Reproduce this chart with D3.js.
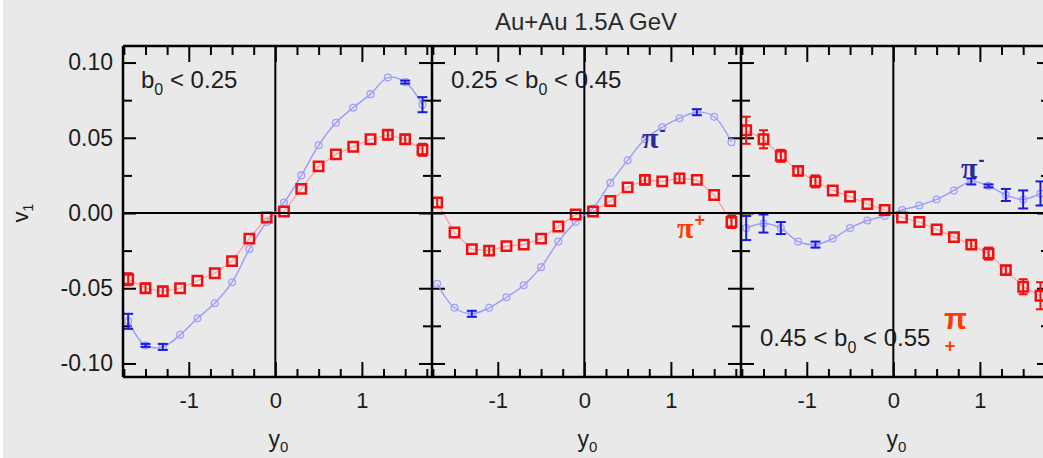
<!DOCTYPE html>
<html><head><meta charset="utf-8">
<script src="https://cdn.jsdelivr.net/npm/d3@7"></script>
<style>
html,body{margin:0;padding:0;background:#e9e9e9;}
svg{display:block;}
text{font-family:"Liberation Sans",Arial,Helvetica,sans-serif;}
</style></head><body>
<svg id="chart" width="1043" height="458"></svg>
<script>
// Rapidity bins (y0) shared by all three centrality classes
const rapidity = [-1.7,-1.5,-1.3,-1.1,-0.9,-0.7,-0.5,-0.3,-0.1,0.1,0.3,0.5,0.7,0.9,1.1,1.3,1.5,1.7];

// v1 of pi+ and pi- for each centrality class, with statistical errors
const piPlusB1    = [-0.044,-0.050,-0.052,-0.050,-0.045,-0.040,-0.032,-0.017,-0.003,0.001,0.016,0.031,0.039,0.044,0.049,0.052,0.049,0.042];
const piPlusErrB1 = [0.004,0.003,0.003,0,0,0,0,0,0,0,0,0,0,0,0,0.003,0.003,0.004];
const piMinusB1    = [-0.072,-0.088,-0.089,-0.081,-0.070,-0.060,-0.046,-0.024,-0.006,0.007,0.025,0.045,0.060,0.070,0.079,0.090,0.087,0.072];
const piMinusErrB1 = [0.005,0.001,0.002,0,0,0,0,0,0,0,0,0,0,0,0,0,0.001,0.005];

const piPlusB2    = [0.007,-0.013,-0.024,-0.025,-0.022,-0.021,-0.017,-0.009,-0.001,0.001,0.008,0.017,0.022,0.021,0.023,0.022,0.012,-0.006];
const piPlusErrB2 = [0.003,0,0,0.003,0,0,0,0,0,0,0,0,0.003,0,0.003,0,0,0.004];
const piMinusB2    = [-0.047,-0.063,-0.067,-0.063,-0.056,-0.048,-0.036,-0.019,-0.006,0.003,0.020,0.035,0.049,0.057,0.063,0.067,0.064,0.047];
const piMinusErrB2 = [0,0,0.002,0,0,0,0,0,0,0,0,0,0,0,0,0.002,0,0];

const piPlusB3    = [0.055,0.049,0.038,0.028,0.021,0.015,0.011,0.006,0.002,-0.003,-0.006,-0.011,-0.016,-0.021,-0.027,-0.038,-0.049,-0.055];
const piPlusErrB3 = [0.009,0.006,0.004,0.003,0.004,0,0,0,0,0,0,0,0,0.003,0.004,0.003,0.005,0.009];
const piMinusB3    = [-0.010,-0.007,-0.010,-0.019,-0.021,-0.017,-0.010,-0.005,-0.002,0.002,0.005,0.009,0.015,0.021,0.018,0.012,0.009,0.013];
const piMinusErrB3 = [0.008,0.006,0.004,0,0.002,0,0,0,0,0,0,0,0,0.002,0.001,0.004,0.006,0.008];

// Axis ticks
const xMajorTicks = [-1,0,1];
const xMinorTicks = [-1.75,-1.5,-1.25,-0.75,-0.5,-0.25,0.25,0.5,0.75,1.25,1.5,1.75];
const yMajorTicks = [-0.1,-0.05,0,0.05,0.1];
const yMinorTicks = [-0.075,-0.025,0.025,0.075];
const yTickLabels = [-0.1,-0.05,0,0.05,0.1];

// Centrality class labels: [before subscript, subscript, after]
const centralityLabels = [["b","0"," < 0.25"],["0.25 < b","0"," < 0.45"],["0.45 < b","0"," < 0.55"]];
const title = "Au+Au 1.5A GeV";

const panels = [
  {plus: piPlusB1, plusErr: piPlusErrB1, minus: piMinusB1, minusErr: piMinusErrB1},
  {plus: piPlusB2, plusErr: piPlusErrB2, minus: piMinusB2, minusErr: piMinusErrB2},
  {plus: piPlusB3, plusErr: piPlusErrB3, minus: piMinusB3, minusErr: piMinusErrB3}
];

const svg = d3.select("#chart");
svg.append("rect").attr("x",0).attr("y",0).attr("width",3).attr("height",458).attr("fill","#fff");

const plotTop = 46, plotBottom = 377, firstLeft = 123, panelW = 309;
const y = d3.scaleLinear().domain([-0.109, 0.111]).range([plotBottom, plotTop]);

const RED = "#ee1111", RED_LINE = "#ff9a9a";
const BLUE_PT = "#a0a0ff", BLUE_LINE = "#8c8cff", BLUE_ERR = "#1a1ae0";
const TEXT = "#1c1c1c";

function ticks(g){ g.select(".domain").remove(); g.selectAll("line").attr("stroke","#000").attr("stroke-width",2); g.selectAll("text").remove(); }

function errorBars(sel, x, key, errKey, color, cap) {
  const eg = sel.selectAll(null).data(d => [d]).join("g");
  eg.append("line").attr("x1", d => x(d.r)).attr("x2", d => x(d.r)).attr("y1", d => y(d[key] - d[errKey])).attr("y2", d => y(d[key] + d[errKey])).attr("stroke",color).attr("stroke-width",2);
  [-1, 1].forEach(s => eg.append("line")
    .attr("x1", d => x(d.r) - cap).attr("x2", d => x(d.r) + cap)
    .attr("y1", d => y(d[key] + s * d[errKey])).attr("y2", d => y(d[key] + s * d[errKey]))
    .attr("stroke",color).attr("stroke-width",2));
}

panels.forEach((p, i) => {
  const left = firstLeft + i * panelW;
  const x = d3.scaleLinear().domain([-1.76, 1.81]).range([left, left + panelW]);
  const g = svg.append("g");

  // tick marks on all four sides, pointing into the panel
  g.append("g").attr("transform",`translate(0,${plotTop})`).call(d3.axisBottom(x).tickValues(xMajorTicks).tickSize(16)).call(ticks);
  g.append("g").attr("transform",`translate(0,${plotTop})`).call(d3.axisBottom(x).tickValues(xMinorTicks).tickSize(9)).call(ticks);
  g.append("g").attr("transform",`translate(0,${plotBottom})`).call(d3.axisTop(x).tickValues(xMajorTicks).tickSize(15)).call(ticks);
  g.append("g").attr("transform",`translate(0,${plotBottom})`).call(d3.axisTop(x).tickValues(xMinorTicks).tickSize(8)).call(ticks);
  g.append("g").attr("transform",`translate(${left},0)`).call(d3.axisRight(y).tickValues(yMajorTicks).tickSize(13)).call(ticks);
  g.append("g").attr("transform",`translate(${left},0)`).call(d3.axisRight(y).tickValues(yMinorTicks).tickSize(9)).call(ticks);
  g.append("g").attr("transform",`translate(${left+panelW},0)`).call(d3.axisLeft(y).tickValues(yMajorTicks).tickSize(13)).call(ticks);
  g.append("g").attr("transform",`translate(${left+panelW},0)`).call(d3.axisLeft(y).tickValues(yMinorTicks).tickSize(9)).call(ticks);

  // x tick labels
  const xl = g.append("g").attr("transform",`translate(0,${plotBottom})`)
    .call(d3.axisBottom(x).tickValues(xMajorTicks).tickSize(0).tickPadding(15).tickFormat(d => String(d)));
  xl.select(".domain").remove();
  xl.selectAll("text").attr("font-size",22).attr("fill",TEXT).attr("font-family","Liberation Sans, Arial, sans-serif");

  // x axis title y0
  const xt = g.append("text").attr("x", x(0) + 3).attr("y", 447).attr("text-anchor","middle").attr("font-size",23).attr("fill",TEXT);
  xt.append("tspan").text("y");
  xt.append("tspan").attr("font-size",15).attr("dy",5).text("0");

  // zero line (vertical)
  g.append("line").attr("x1",x(0)).attr("x2",x(0)).attr("y1",plotTop).attr("y2",plotBottom).attr("stroke","#000").attr("stroke-width",2);

  const pts = rapidity.map((r, k) => ({r, plus: p.plus[k], pe: p.plusErr[k], minus: p.minus[k], me: p.minusErr[k]}));

  const clip = "clip" + i;
  svg.append("clipPath").attr("id", clip).append("rect").attr("x",left).attr("y",plotTop).attr("width",panelW).attr("height",plotBottom-plotTop);
  const dg = g.append("g").attr("clip-path",`url(#${clip})`);

  // pi- : smooth curve, open markers, error bars
  dg.append("path").datum(pts)
    .attr("d", d3.line().x(d => x(d.r)).y(d => y(d.minus)).curve(d3.curveCatmullRom))
    .attr("fill","none").attr("stroke",BLUE_LINE).attr("stroke-width",1.4).attr("opacity",0.85);
  dg.selectAll(".bm").data(pts).join("circle")
    .attr("cx", d => x(d.r)).attr("cy", d => y(d.minus)).attr("r",3.4)
    .attr("fill","none").attr("stroke",BLUE_PT).attr("stroke-width",1.3);
  dg.selectAll(".be").data(pts.filter(d => d.me > 0)).join("g").call(errorBars, x, "minus", "me", BLUE_ERR, 5);

  // pi+ : thin connecting line, open squares, error bars
  dg.append("path").datum(pts)
    .attr("d", d3.line().x(d => x(d.r)).y(d => y(d.plus)))
    .attr("fill","none").attr("stroke",RED_LINE).attr("stroke-width",1.2);
  dg.selectAll(".re").data(pts.filter(d => d.pe > 0)).join("g").call(errorBars, x, "plus", "pe", RED, 4.5);
  dg.selectAll(".rm").data(pts).join("path")
    .attr("transform", d => `translate(${x(d.r)},${y(d.plus)})`)
    .attr("d", d3.symbol(d3.symbolSquare, 88)())
    .attr("fill","none").attr("stroke",RED).attr("stroke-width",2.5);

  // centrality label
  const lab = centralityLabels[i];
  const lt = g.append("text").attr("font-size",24).attr("fill",TEXT)
    .attr("x", i === 0 ? 141 : left + 19).attr("y", i === 2 ? 346 : 88);
  lt.append("tspan").text(lab[0]);
  lt.append("tspan").attr("font-size",16).attr("dy",7).text(lab[1]);
  lt.append("tspan").attr("dy",-7).text(lab[2]);
});

// shared horizontal zero line and frame
svg.append("line").attr("x1",firstLeft).attr("x2",firstLeft + 3*panelW).attr("y1",y(0)).attr("y2",y(0)).attr("stroke","#000").attr("stroke-width",2);
for (let i = 0; i <= 3; i++) {
  const xx = firstLeft + i*panelW;
  svg.append("line").attr("x1",xx).attr("x2",xx).attr("y1",plotTop).attr("y2",plotBottom).attr("stroke","#000").attr("stroke-width",2.5);
}
svg.append("line").attr("x1",firstLeft).attr("x2",firstLeft+3*panelW).attr("y1",plotTop).attr("y2",plotTop).attr("stroke","#000").attr("stroke-width",2.5);
svg.append("line").attr("x1",firstLeft).attr("x2",firstLeft+3*panelW).attr("y1",plotBottom).attr("y2",plotBottom).attr("stroke","#000").attr("stroke-width",2.5);

// y tick labels
const yl = svg.append("g").attr("transform",`translate(${firstLeft},0)`)
  .call(d3.axisLeft(y).tickValues(yTickLabels).tickSize(0).tickPadding(10).tickFormat(d => d.toFixed(2)));
yl.select(".domain").remove();
yl.selectAll("text").attr("font-size",23).attr("fill",TEXT).attr("font-family","Liberation Sans, Arial, sans-serif");

// y axis title v1
const yt = svg.append("text").attr("transform",`translate(28,${y(0)}) rotate(-90)`).attr("text-anchor","middle").attr("font-size",22).attr("fill",TEXT);
yt.append("tspan").text("v");
yt.append("tspan").attr("font-size",14).attr("dy",5).text("1");

// title
svg.append("text").attr("x",586).attr("y",30).attr("text-anchor","middle").attr("font-size",24).attr("fill","#2a2a2a").text(title);

// particle labels
function piLabel(px, py, color, sign) {
  const t = svg.append("text").attr("x",px).attr("y",py).attr("fill",color);
  t.append("tspan").attr("font-family","Liberation Serif, DejaVu Serif, serif").attr("font-size",30).attr("font-weight","bold").text("\u03c0");
  t.append("tspan").attr("font-size",18).attr("font-weight","bold").attr("dx",1).attr("dy",-12).text(sign);
}
piLabel(642, 148, "#2b2b9c", "-");
piLabel(677, 238, "#ff3a00", "+");
piLabel(961, 178, "#2b2b9c", "-");
svg.append("text").attr("x",944).attr("y",329).attr("fill","#ff3a00").attr("font-family","Liberation Serif, DejaVu Serif, serif").attr("font-size",30).attr("font-weight","bold").text("\u03c0");
svg.append("text").attr("x",950).attr("y",352).attr("text-anchor","middle").attr("fill","#ff3a00").attr("font-size",18).attr("font-weight","bold").text("+");
</script>
</body></html>
